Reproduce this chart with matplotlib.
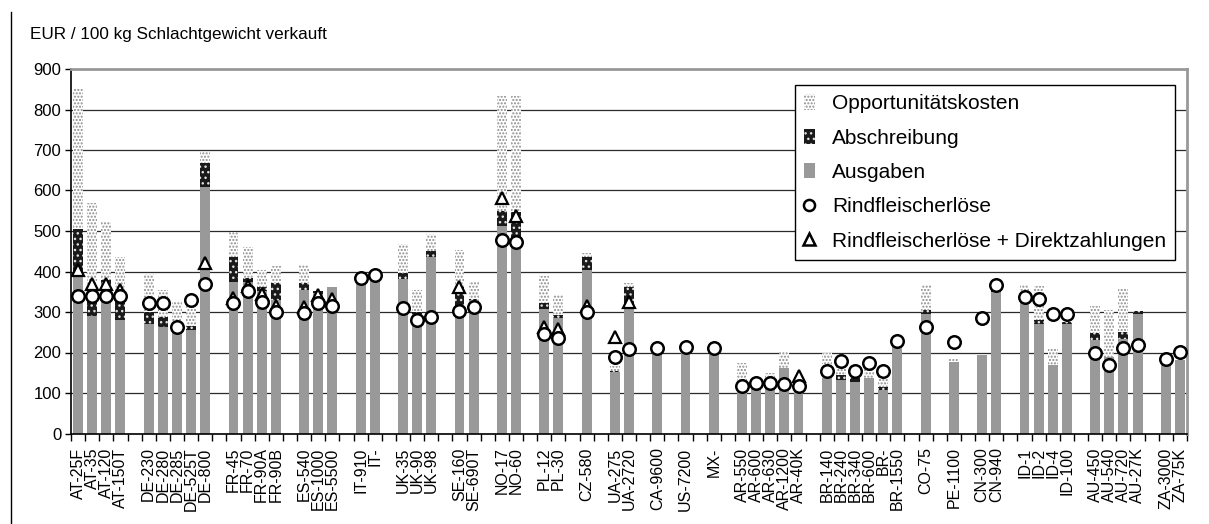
import numpy as np
import matplotlib
matplotlib.use('Agg')
import matplotlib.pyplot as plt
from matplotlib.patches import Patch
from matplotlib.lines import Line2D

plt.rcParams['font.family'] = ['Liberation Sans', 'DejaVu Sans']
plt.rcParams['hatch.linewidth'] = 1.0

nan = np.nan

# '' = leerer Platz zwischen den Ländergruppen
labels = ['AT-25F', 'AT-35', 'AT-120', 'AT-150T', '',
          'DE-230', 'DE-280', 'DE-285', 'DE-525T', 'DE-800', '',
          'FR-45', 'FR-70', 'FR-90A', 'FR-90B', '',
          'ES-540', 'ES-1000', 'ES-5500', '',
          'IT-910', 'IT-', '',
          'UK-35', 'UK-90', 'UK-98', '',
          'SE-160', 'SE-690T', '',
          'NO-17', 'NO-60', '',
          'PL-12', 'PL-30', '',
          'CZ-580', '',
          'UA-275', 'UA-2720', '',
          'CA-9600', '',
          'US-7200', '',
          'MX-', '',
          'AR-550', 'AR-600', 'AR-630', 'AR-1200', 'AR-40K', '',
          'BR-140', 'BR-240', 'BR-340', 'BR-600', 'BR-', 'BR-1550', '',
          'CO-75', '',
          'PE-1100', '',
          'CN-300', 'CN-940', '',
          'ID-1', 'ID-2', 'ID-4', 'ID-100', '',
          'AU-450', 'AU-540', 'AU-720', 'AU-27K', '',
          'ZA-3000', 'ZA-75K']

ausgaben = [395, 290, 370, 280, nan,
            271, 263, 255, 255, 608, nan,
            375, 374, 353, 329, nan,
            355, 345, 362, nan,
            385, 395, nan,
            382, 296, 435, nan,
            312, 329, nan,
            513, 485, nan,
            308, 284, nan,
            403, nan,
            152, 312, nan,
            206, nan,
            214, nan,
            210, nan,
            103, 115, 128, 161, 107, nan,
            136, 132, 128, 136, 107, 214, nan,
            296, nan,
            177, nan,
            193, 349, nan,
            345, 271, 169, 271, nan,
            230, 189, 234, 296, nan,
            185, 181]

abschreibung = [110, 55, 8, 65, nan,
                29, 25, 0, 11, 59, nan,
                62, 11, 9, 42, nan,
                16, 7, 0, nan,
                0, 0, nan,
                14, 4, 15, nan,
                50, 4, nan,
                37, 61, nan,
                14, 8, nan,
                32, nan,
                3, 50, nan,
                0, nan,
                8, nan,
                0, nan,
                0, 0, 0, 0, 0, nan,
                2, 12, 10, 0, 8, 6, nan,
                8, nan,
                0, nan,
                0, 6, nan,
                5, 9, 0, 5, nan,
                18, 0, 17, 6, nan,
                0, 0]

opportunitaet = [345, 224, 144, 92, nan,
                 95, 67, 70, 50, 27, nan,
                 60, 75, 42, 42, nan,
                 46, 0, 0, nan,
                 0, 0, nan,
                 72, 55, 43, nan,
                 92, 43, nan,
                 284, 288, nan,
                 66, 49, nan,
                 10, nan,
                 11, 10, nan,
                 0, nan,
                 0, nan,
                 0, nan,
                 72, 0, 22, 42, 0, nan,
                 61, 49, 31, 24, 29, 0, nan,
                 62, nan,
                 8, nan,
                 0, 0, nan,
                 16, 83, 41, 0, nan,
                 68, 115, 109, 0, nan,
                 0, 0]

erloese = [339, 339, 339, 339, nan,
           323, 321, 263, 329, 370, nan,
           321, 351, 325, 300, nan,
           298, 322, 316, nan,
           385, 392, nan,
           311, 280, 288, nan,
           302, 312, nan,
           478, 474, nan,
           245, 237, nan,
           300, nan,
           189, 208, nan,
           211, nan,
           214, nan,
           211, nan,
           118, 124, 124, 121, 118, nan,
           155, 179, 155, 174, 155, 229, nan,
           262, nan,
           225, nan,
           285, 366, nan,
           337, 331, 294, 294, nan,
           199, 170, 210, 218, nan,
           185, 201]

erloese_dz = [403, 370, 368, 355, nan,
              nan, nan, nan, nan, 422, nan,
              335, 365, 345, 316, nan,
              312, 341, 333, nan,
              nan, nan, nan,
              nan, nan, nan, nan,
              362, nan, nan,
              582, 538, nan,
              263, 257, nan,
              316, nan,
              238, 325, nan,
              nan, nan,
              nan, nan,
              nan, nan,
              nan, nan, nan, nan, 142, nan,
              nan, nan, nan, nan, nan, nan, nan,
              nan, nan,
              nan, nan,
              nan, nan, nan,
              nan, nan, nan, nan, nan,
              nan, nan, nan, nan, nan,
              nan, nan]

x = np.arange(len(labels))
ausgaben = np.array(ausgaben, dtype=float)
abschreibung = np.array(abschreibung, dtype=float)
opportunitaet = np.array(opportunitaet, dtype=float)

fig = plt.figure(figsize=(12.09, 5.24), dpi=100)
ax = fig.add_axes([71 / 1209, 1 - 433.5 / 524, 1116 / 1209, 364.5 / 524])

ax.bar(x, ausgaben, width=0.7, color='#999999', lw=0, zorder=2)
ax.bar(x, abschreibung, width=0.7, bottom=ausgaben, color='#1a1a1a',
       edgecolor='#e0e0e0', hatch='...', lw=0, zorder=2)
ax.bar(x, opportunitaet, width=0.7, bottom=ausgaben + abschreibung,
       color='white', edgecolor='#8c8c8c', hatch='.....', lw=0, zorder=2)

ax.plot(x, erloese_dz, ls='none', marker='^', ms=9, mfc='white', mec='black',
        mew=1.6, zorder=3)
ax.plot(x, erloese, ls='none', marker='o', ms=9, mfc='white', mec='black',
        mew=1.8, zorder=4)

ax.set_ylim(0, 900)
ax.set_xlim(-0.5, len(labels) - 0.5)
ax.set_yticks(np.arange(0, 901, 100))
ax.yaxis.grid(True, color='#2a2a2a', lw=0.9, zorder=0)
ax.set_axisbelow(True)
ax.tick_params(axis='y', labelsize=12, length=4, width=1, direction='out', pad=3)

ax.set_xticks(np.arange(-0.5, len(labels)), labels=[])
ax.set_xticks(x, labels=labels, minor=True)
ax.tick_params(axis='x', which='major', length=5, width=1, direction='out')
ax.tick_params(axis='x', which='minor', length=0, pad=10, labelsize=11.5,
               labelrotation=90)

for s in ['left', 'bottom']:
    ax.spines[s].set_color('black')
    ax.spines[s].set_linewidth(1.2)
for s in ['top', 'right']:
    ax.spines[s].set_color('#999999')
    ax.spines[s].set_linewidth(2)

handles = [Patch(facecolor='white', edgecolor='#8c8c8c', hatch='.....', lw=0),
           Patch(facecolor='#1a1a1a', edgecolor='#e0e0e0', hatch='...', lw=0),
           Patch(facecolor='#999999', lw=0),
           Line2D([], [], ls='none', marker='o', ms=8, mfc='white', mec='black', mew=1.8),
           Line2D([], [], ls='none', marker='^', ms=8, mfc='white', mec='black', mew=1.8)]
names = ['Opportunitätskosten', 'Abschreibung', 'Ausgaben', 'Rindfleischerlöse',
         'Rindfleischerlöse + Direktzahlungen']
leg = ax.legend(handles, names, loc='upper right', bbox_to_anchor=(0.989, 0.955),
                borderaxespad=0, fontsize=15, frameon=True, fancybox=False,
                edgecolor='black', framealpha=1, handlelength=0.55,
                handleheight=0.75, handletextpad=0.8, labelspacing=0.74,
                borderpad=0.42)
leg.get_frame().set_linewidth(1.0)
leg.set_zorder(5)

fig.text(30 / 1209, 1 - 35 / 524, 'EUR / 100 kg Schlachtgewicht verkauft',
         fontsize=12.3, va='center', ha='left')
fig.add_artist(Line2D([11 / 1209, 11 / 1209], [0, 1 - 12 / 524], color='black',
                      lw=1, transform=fig.transFigure))

fig.savefig('out.png', dpi=100)
